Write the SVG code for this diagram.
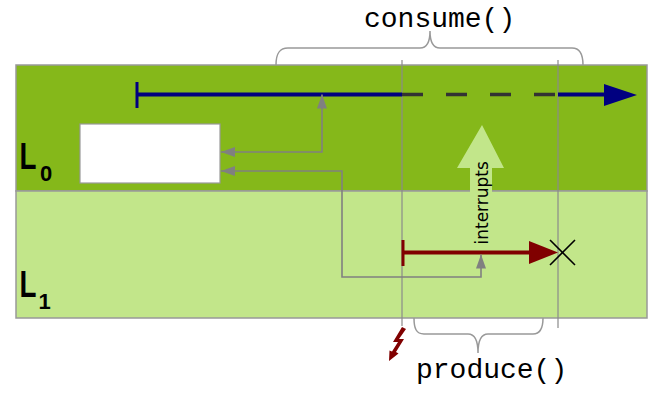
<svg xmlns="http://www.w3.org/2000/svg" width="663" height="406" viewBox="0 0 663 406">
<style>
.band{stroke:#999;stroke-width:1.5}
.guide{stroke:#8a8a8a;stroke-width:1.2;fill:none}
.brace{stroke:#999;stroke-width:1.5;fill:none}
.conn{stroke:#808080;stroke-width:1.6;fill:none;marker-start:url(#ga);marker-end:url(#ga)}
.mono{font-family:"Liberation Mono","DejaVu Sans Mono",monospace;font-size:28px;fill:#000}
.lab{font-family:"Liberation Sans",Arial,sans-serif;font-weight:bold;fill:#000}
</style>
<defs>
<marker id="ga" viewBox="0 0 14 10" refX="14" refY="5" markerWidth="14" markerHeight="10" markerUnits="userSpaceOnUse" orient="auto-start-reverse">
<path d="M0,0 L14,5 L0,10 Z" fill="#808080"/>
</marker>
</defs>
<rect width="663" height="406" fill="#fff"/>
<g id="band-L0">
<rect class="band" x="16" y="65" width="631" height="126" fill="#85b81a"/>
<text class="lab" font-size="37" transform="translate(19.5,169) scale(0.75,1)">L</text>
<text class="lab" font-size="22" x="40" y="181">0</text>
</g>
<g id="band-L1">
<rect class="band" x="16" y="191" width="631" height="127" fill="#c2e68a"/>
<text class="lab" font-size="37" transform="translate(19.5,297) scale(0.75,1)">L</text>
<text class="lab" font-size="22" x="38.5" y="309">1</text>
</g>
<g id="box">
<rect x="80" y="124" width="140" height="59" fill="#fff" stroke="#999" stroke-width="1.2"/>
</g>
<g id="interrupts">
<path d="M482,125 L504,168 L492,168 L492,245 L470,245 L470,168 L457,168 Z" fill="#c2e68a"/>
<text font-family="DejaVu Sans,Verdana,sans-serif" font-size="17" fill="#000" transform="translate(488,244.5) rotate(-90)">interrupts</text>
</g>
<g id="guides">
<line class="guide" x1="402" y1="60" x2="402" y2="326"/>
<line class="guide" x1="558" y1="60" x2="558" y2="328"/>
</g>
<g id="consume">
<line x1="137" y1="82" x2="137" y2="108" stroke="#000080" stroke-width="3"/>
<line x1="137" y1="94.5" x2="402" y2="94.5" stroke="#000080" stroke-width="4"/>
<line x1="402" y1="94.5" x2="558" y2="94.5" stroke="#333" stroke-width="3.5" stroke-dasharray="21 23"/>
<line x1="558" y1="94.5" x2="606" y2="94.5" stroke="#000080" stroke-width="4"/>
<path d="M604,84 L637,95 L604,106 Z" fill="#000080"/>
</g>
<g id="produce">
<line x1="403" y1="240" x2="403" y2="266" stroke="#800000" stroke-width="3"/>
<line x1="403" y1="252.5" x2="532" y2="252.5" stroke="#800000" stroke-width="4"/>
<path d="M529,241 L558,252.5 L529,264 Z" fill="#800000"/>
<path d="M550,240 L575,265 M550,265 L575,240" stroke="#000" stroke-width="1.6"/>
</g>
<g id="connectors">
<path class="conn" d="M221,152 H322 V94.5"/>
<path class="conn" d="M221,171 H342 V277 H481 V254.5"/>
</g>
<g id="braces">
<path class="brace" d="M276,65 C276,54 279,48 288,48 H420 C426,48 430,43 430,31 C430,43 434,48 440,48 H572 C580,48 583,54 583,65"/>
<path class="brace" d="M414,318 C414,328 416,334 424,334 H468 C474,334 478,340 478,353 C478,340 482,334 488,334 H533 C540,334 543,328 543,318"/>
</g>
<g id="lightning">
<path d="M402,327 L406,329 L399,339 L404,339 L396,352 L398.5,353.5 L389,361 L389.5,350.5 L392,351.5 L398,342 L393,342 Z" fill="#800000"/>
</g>
<g id="labels">
<text class="mono" x="364" y="27">consume()</text>
<text class="mono" x="416" y="378">produce()</text>
</g>
</svg>
